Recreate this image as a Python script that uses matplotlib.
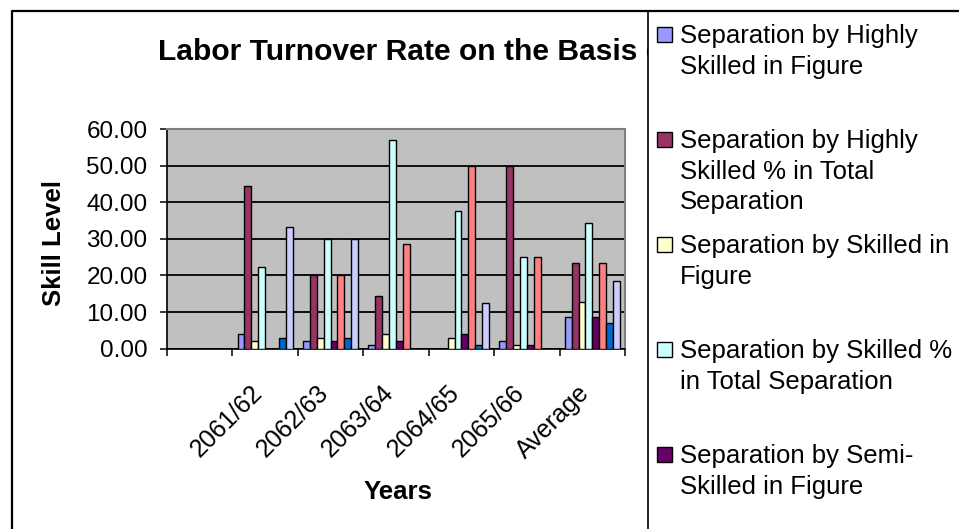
import numpy as np
import matplotlib
matplotlib.use("Agg")
import matplotlib.pyplot as plt
from matplotlib.patches import Rectangle
from matplotlib.lines import Line2D
from matplotlib.ticker import FormatStrFormatter
from matplotlib.transforms import ScaledTranslation

plt.rcParams['font.family'] = ['Liberation Sans', 'DejaVu Sans']

# categories (first one is blank in the source sheet)
years = ['', '2061/62', '2062/63', '2063/64', '2064/65', '2065/66', 'Average']

hs_fig = [0, 4, 2, 1, 0, 2, 8.6]
hs_pct = [0, 44.4, 20, 14.3, 0, 50, 23.3]
sk_fig = [0, 2, 3, 4, 3, 1, 12.8]
sk_pct = [0, 22.2, 30, 57.1, 37.5, 25, 34.3]
ss_fig = [0, 0, 2, 2, 4, 1, 8.6]
ss_pct = [0, 0, 20, 28.6, 50, 25, 23.3]
us_fig = [0, 3, 3, 0, 1, 0, 6.9]
us_pct = [0, 33.3, 30, 0, 12.5, 0, 18.5]

series = [hs_fig, hs_pct, sk_fig, sk_pct, ss_fig, ss_pct, us_fig, us_pct]
labels = ['Separation by Highly\nSkilled in Figure',
          'Separation by Highly\nSkilled % in Total\nSeparation',
          'Separation by Skilled in\nFigure',
          'Separation by Skilled %\nin Total Separation',
          'Separation by Semi-\nSkilled in Figure',
          'Separation by Semi-\nSkilled % in Total\nSeparation',
          'Separation by Unskilled\nin Figure',
          'Separation by Unskilled\n% in Total Separation']
colors = ['#9999FF', '#993366', '#FFFFCC', '#CCFFFF',
          '#660066', '#FF8080', '#0066CC', '#CCCCFF']

W, H = 959, 529
fig = plt.figure(figsize=(W / 100, H / 100), dpi=100)


def fx(px):
    return px / W


def fy(py):
    return 1 - py / H


ax = fig.add_axes([fx(167), fy(348.7), fx(625) - fx(167), fy(129) - fy(348.7)])
ax.set_facecolor('#C0C0C0')

x = np.arange(len(years))
n = len(series)
w = 1 / (n + 1.5)
for i, (vals, c) in enumerate(zip(series, colors)):
    ax.bar(x + (i - (n - 1) / 2) * w, vals, width=w, color=c,
           edgecolor='black', linewidth=1.0, zorder=3)

ax.set_xlim(-0.5, len(years) - 0.5)
ax.set_ylim(0, 60)
ax.set_yticks(np.arange(0, 61, 10))
ax.yaxis.set_major_formatter(FormatStrFormatter('%.2f'))
ax.grid(axis='y', color='black', linewidth=1.3, zorder=1)
ax.set_axisbelow(True)

ax.set_xticks(np.arange(-0.5, len(years), 1))
ax.set_xticklabels([])
ax.set_xticks(x, years, minor=True)
ax.tick_params(axis='x', which='major', direction='out', length=5, width=1.1)
ax.tick_params(axis='x', which='minor', length=0, pad=29, labelsize=18)
shift = ScaledTranslation(-6 / 100, 0, fig.dpi_scale_trans)
for t in ax.get_xticklabels(minor=True):
    t.set_rotation(45)
    t.set_ha('right')
    t.set_va('center')
    t.set_rotation_mode('anchor')
    t.set_transform(t.get_transform() + shift)
ax.tick_params(axis='y', direction='out', length=5, width=1.1, pad=9, labelsize=17.5)

for s in ['left', 'bottom']:
    ax.spines[s].set_color('black')
    ax.spines[s].set_linewidth(1.2)
for s in ['top', 'right']:
    ax.spines[s].set_color('#808080')
    ax.spines[s].set_linewidth(1.5)

fig.text(fx(398), fy(499), 'Years', ha='center', va='baseline',
         fontsize=18.5, fontweight='bold')
fig.text(fx(54), fy(243), 'Skill Level', rotation=90, ha='center', va='center',
         fontsize=18.5, fontweight='bold')

# title, partly hidden by the legend box as in the original
fig.text(fx(158), fy(60), 'Labor Turnover Rate on the Basis of Skill Level',
         ha='left', va='baseline', fontsize=21.6, fontweight='bold', zorder=1)

# legend box (runs off the right and bottom edge, like the source)
fig.add_artist(Rectangle((fx(648), -0.2), 1.2, fy(11) + 0.2,
                         transform=fig.transFigure, facecolor='white',
                         edgecolor='black', linewidth=1.2, zorder=5))
for i, (lab, c) in enumerate(zip(labels, colors)):
    top = 20 + i * 105
    if top > H - 40:
        break  # the remaining entries lie below the visible area
    fig.add_artist(Rectangle((fx(657), fy(top + 22)), fx(15), 15 / H,
                             transform=fig.transFigure, facecolor=c,
                             edgecolor='black', linewidth=1.0, zorder=6))
    fig.text(fx(680), fy(top + 4), lab, ha='left', va='top', fontsize=18.5,
             linespacing=1.35, zorder=6)

# outer chart border
fig.add_artist(Line2D([fx(12), fx(12), 1.01], [-0.01, fy(11), fy(11)],
                      transform=fig.transFigure, color='black', linewidth=1.6,
                      zorder=7))

fig.savefig('out.png', dpi=100)
